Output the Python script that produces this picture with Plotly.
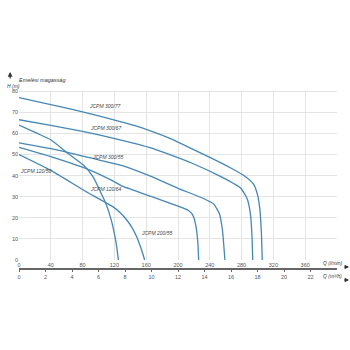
import plotly.graph_objects as go

# ---- data ----
q_300_77 = [0, 40, 80, 118, 145, 167, 192, 217, 242, 267, 285, 295, 300, 303, 305, 306]
h_300_77 = [77, 73.7, 70.2, 66.6, 63.8, 61, 57.3, 52.8, 48.3, 43.5, 39.5, 36, 31, 24, 12, 0]

q_300_67 = [0, 40, 80, 118, 167, 217, 254, 279, 287, 291, 293, 294]
h_300_67 = [66.5, 63.8, 61, 57.8, 53, 46, 39.5, 34, 29, 22, 12, 0]

q_300_55 = [0, 50, 100, 130, 167, 200, 230, 245, 252, 256, 258, 259]
h_300_55 = [55.5, 52, 47.5, 44.8, 39.5, 34, 29.5, 26.5, 22, 14, 5, 0]

q_200_55 = [0, 40, 90, 118, 130, 167, 200, 213, 217, 220, 223, 225, 226]
h_200_55 = [53.4, 49, 42.5, 37.5, 35, 30, 25.5, 23.5, 22.2, 20, 15, 8, 0]

q_120_64 = [0, 23, 40, 60, 81, 93, 109, 116, 120, 123, 125]
h_120_64 = [64, 60, 57, 51, 45, 39.5, 27, 19, 12.5, 6, 0]

q_120_50 = [0, 39, 84, 118, 128, 135, 142, 148, 153, 156.5, 158]
h_120_50 = [50, 42.7, 32.5, 25.3, 22.2, 19.2, 15.5, 11, 6, 2, 0]

curve_q = [q_300_77, q_300_67, q_300_55, q_200_55, q_120_64, q_120_50]
curve_h = [h_300_77, h_300_67, h_300_55, h_200_55, h_120_64, h_120_50]

label_text = ["JCPM 300/77", "JCPM 300/67", "JCPM 300/55", "JCPM 120/50", "JCPM 120/64", "JCPM 200/55"]
label_q = [108, 110, 112, 21, 110, 174]
label_h = [73, 62.6, 48.8, 42.2, 33.6, 12.8]

x_ticks_lmin = [0, 40, 80, 120, 160, 200, 240, 280, 320, 360, 400]
x_ticktext_lmin = ["0", "40", "80", "120", "160", "200", "240", "280", "320", "360", ""]
x_ticks_m3h = [0, 2, 4, 6, 8, 10, 12, 14, 16, 18, 20, 22]
y_ticks = [0, 10, 20, 30, 40, 50, 60, 70, 80]

# ---- figure ----
LINE = "#4687b5"
GRID = "#e4e4e4"
TICKF = dict(family="Liberation Sans", size=5.5, color="#555")

fig = go.Figure()
for q, h in zip(curve_q, curve_h):
    fig.add_trace(go.Scatter(x=q, y=h, mode="lines", line=dict(color=LINE, width=1.3, shape="spline", smoothing=0.4),
                             hoverinfo="skip", showlegend=False))
# invisible trace to bind the secondary (m3/h) axis
fig.add_trace(go.Scatter(x=[0, 24], y=[None, None], xaxis="x2", mode="lines", showlegend=False, hoverinfo="skip"))

# page geometry helpers
T, B, L, R = 90, 68, 15, 13
PW, PH = 350 - L - R, 350 - T - B


def px(x):
    return (x - L) / PW


def py(y):
    return (350 - B - y) / PH


ann = []
for t, q, h in zip(label_text, label_q, label_h):
    ann.append(dict(x=q, y=h, xref="x", yref="y", text="<i>" + t + "</i>", showarrow=False,
                    font=dict(family="Liberation Sans", size=5, color="#444")))

ann += [
    dict(x=px(13), y=py(75), xref="paper", yref="paper", xanchor="left", text="<i>Emelési magasság</i>",
         showarrow=False, font=dict(family="Liberation Sans", size=5.5, color="#333")),
    dict(x=px(6), y=py(72), xref="paper", yref="paper", ax=0, ay=8, text="", showarrow=True,
         arrowhead=2, arrowsize=0.8, arrowwidth=1.2, arrowcolor="#333"),
    dict(x=px(1), y=py(81), xref="paper", yref="paper", xanchor="left", text="<i>H (m)</i>",
         showarrow=False, font=dict(family="Liberation Sans", size=5, color="#333")),
    dict(x=px(321), y=py(268), xref="paper", yref="paper", xanchor="left", text="<i>Q (l/min)</i>",
         showarrow=False, font=dict(family="Liberation Sans", size=5, color="#333")),
    dict(x=px(350), y=py(267), xref="paper", yref="paper", ax=-7, ay=0, text="", showarrow=True,
         arrowhead=2, arrowsize=0.8, arrowwidth=1.1, arrowcolor="#333"),
    dict(x=px(321), y=py(281), xref="paper", yref="paper", xanchor="left", text="<i>Q (m³/h)</i>",
         showarrow=False, font=dict(family="Liberation Sans", size=5, color="#333")),
    dict(x=px(350), y=py(280), xref="paper", yref="paper", ax=-7, ay=0, text="", showarrow=True,
         arrowhead=2, arrowsize=0.8, arrowwidth=1.1, arrowcolor="#333"),
]

fig.update_layout(
    width=350, height=350,
    margin=dict(l=L, r=R, t=T, b=B, pad=0),
    paper_bgcolor="white", plot_bgcolor="white",
    xaxis=dict(range=[0, 400], tickvals=x_ticks_lmin, ticktext=x_ticktext_lmin, showgrid=True, gridcolor=GRID,
               gridwidth=1, zeroline=False, showline=False, ticks="", tickfont=TICKF,
               domain=[0, 1], anchor="y"),
    xaxis2=dict(range=[0, 24], tickvals=x_ticks_m3h, overlaying="x", anchor="free", position=py(269), side="bottom",
                showgrid=False, zeroline=False, showline=True, linecolor="#666", linewidth=2,
                ticks="outside", ticklen=2, tickcolor="#666", tickfont=TICKF),
    yaxis=dict(range=[0, 80.6], tickvals=y_ticks, showgrid=True, gridcolor=GRID, gridwidth=1, zeroline=False,
               showline=False, ticks="", tickfont=TICKF, domain=[py(260), 1]),
    annotations=ann,
)

fig.write_html("out.html")
